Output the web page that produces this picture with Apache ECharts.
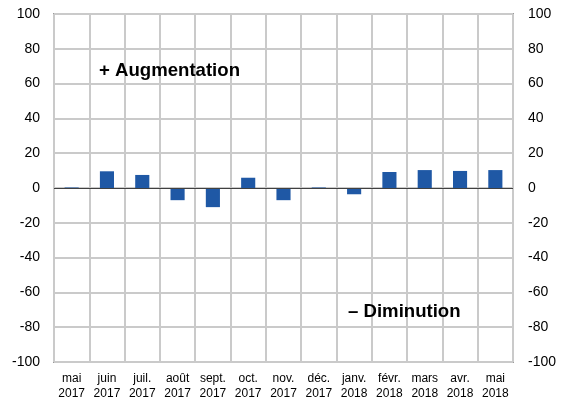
<!DOCTYPE html>
<html>
<head>
<meta charset="utf-8">
<script src="https://cdn.jsdelivr.net/npm/echarts@6/dist/echarts.min.js"></script>
<style>
html, body { margin: 0; padding: 0; background: #fff; }
#main { width: 561px; height: 403px; }
</style>
</head>
<body>
<div id="main"></div>
<script>
var months = ['mai\n2017', 'juin\n2017', 'juil.\n2017', 'août\n2017', 'sept.\n2017', 'oct.\n2017',
    'nov.\n2017', 'déc.\n2017', 'janv.\n2018', 'févr.\n2018', 'mars\n2018', 'avr.\n2018', 'mai\n2018'];
var values = [0.3, 9.6, 7.5, -7, -11, 5.9, -7, 0.3, -3.6, 9.2, 10.3, 9.8, 10.3];

var myChart = echarts.init(document.getElementById('main'));

var yLabel = { fontFamily: 'Liberation Sans', fontSize: 14, color: '#000' };

myChart.setOption({
    animation: false,
    grid: {
	left: 54, right: 48, top: 14, bottom: 41,
	show: true, borderColor: '#9a9a9a', borderWidth: 2
    },
    xAxis: {
	type: 'category',
	data: months,
	axisLine: { onZero: false, show: false },
	axisTick: { show: false },
	splitLine: { show: true, lineStyle: { color: '#cacaca', width: 2 } },
	axisLabel: {
	    interval: 0, fontFamily: 'Liberation Sans', fontSize: 12,
	    color: '#000', lineHeight: 15, margin: 9
	}
    },
    yAxis: [{
	type: 'value', min: -100, max: 100, interval: 20,
	axisLine: { show: false }, axisTick: { show: false },
	splitLine: { lineStyle: { color: '#cacaca', width: 2 } },
	axisLabel: Object.assign({ margin: 14 }, yLabel)
    }, {
	type: 'value', min: -100, max: 100, interval: 20, position: 'right',
	axisLine: { show: false }, axisTick: { show: false },
	splitLine: { show: false },
	axisLabel: Object.assign({ margin: 15 }, yLabel)
    }],
    series: [{
	type: 'bar',
	data: values,
	barWidth: '40%',
	itemStyle: { color: '#1f58a5' },
	markLine: {
	    silent: true, symbol: 'none', label: { show: false },
	    lineStyle: { color: '#404040', type: 'solid', width: 1 },
	    data: [{ yAxis: 0 }]
	}
    }],
    graphic: [{
	type: 'text', left: 99, top: 61, z: 100,
	style: { text: '+ Augmentation', font: 'bold 18.6px "Liberation Sans"', fill: '#000' }
    }, {
	type: 'text', left: 348, top: 302, z: 100,
	style: { text: '– Diminution', font: 'bold 18.6px "Liberation Sans"', fill: '#000' }
    }]
});
</script>
</body>
</html>
